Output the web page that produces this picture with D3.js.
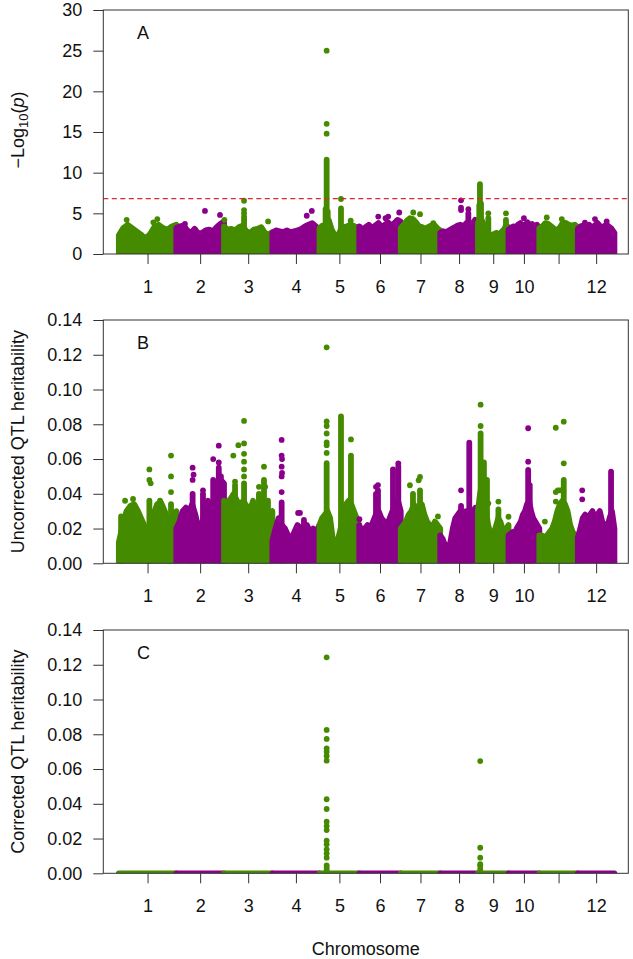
<!DOCTYPE html>
<html><head><meta charset="utf-8">
<script src="https://cdn.jsdelivr.net/npm/d3@7"></script>
<style>body{margin:0;background:#fff} svg text{font-family:"Liberation Sans",Arial,Helvetica,sans-serif;fill:#111}</style>
</head><body><svg id="chart" width="633" height="959"></svg>
<script>
// ---------- data ----------
const chromosomes = ["1","2","3","4","5","6","7","8","9","10","11","12"];
const chromLengths = [43.27, 35.94, 36.41, 35.50, 29.96, 31.25, 29.70, 28.44, 23.01, 23.21, 29.02, 27.53]; // Mb
const tickLabels = ["1","2","3","4","5","6","7","8","9","10","","12"];
const yTicksA = [0, 5, 10, 15, 20, 25, 30];
const yTicksH = [0, 0.02, 0.04, 0.06, 0.08, 0.10, 0.12, 0.14];
const thresholdA = 6.8;
const colors = ["#458B00", "#8B008B"];

// Panel A: dense band top (-log10 p), evenly sampled along each chromosome
const bandA = [
 [2.3, 3.2, 3.6, 3.2, 2.8, 2.4, 1.9, 2.4, 3.3, 3.6, 3.2, 3.0, 3.4, 3.6],
 [3.2, 3.4, 3.5, 2.9, 2.6, 3.1, 2.5, 2.6, 2.9, 3.0, 2.8, 3.3, 3.7, 4.0],
 [3.4, 3.0, 3.1, 2.9, 3.3, 3.5, 2.8, 2.6, 3.0, 3.1, 3.3, 2.6, 2.4, 2.7],
 [2.6, 2.9, 2.8, 2.7, 2.9, 2.7, 2.8, 2.9, 3.1, 3.4, 3.6, 3.8, 3.4, 3.0],
 [3.2, 3.5, 3.6, 4.2, 3.0, 2.3, 2.2, 3.0, 3.3, 3.4, 3.6, 3.5, 3.3, 3.0],
 [3.4, 3.0, 3.3, 3.6, 3.2, 3.5, 3.8, 3.3, 3.6, 3.9, 3.5, 3.8, 4.2, 4.0],
 [3.2, 3.6, 4.1, 4.4, 4.3, 3.9, 3.4, 3.3, 3.1, 3.3, 3.5, 3.6, 3.2, 2.9],
 [2.6, 2.8, 2.7, 2.9, 3.1, 3.3, 3.5, 3.6, 3.4, 3.8, 3.6, 3.7, 4.2, 4.0],
 [3.8, 4.6, 3.9, 3.3, 2.8, 2.4, 2.3, 2.5, 2.6, 2.4, 2.7, 3.0, 3.5, 3.3],
 [3.0, 3.2, 3.4, 3.3, 3.6, 3.8, 3.5, 3.6, 3.9, 3.5, 3.7, 3.4, 3.6, 3.2],
 [3.2, 3.4, 3.8, 3.7, 3.4, 3.1, 2.9, 3.3, 3.9, 3.8, 3.6, 3.5, 3.6, 3.3],
 [3.1, 3.4, 3.5, 3.3, 3.6, 3.2, 3.5, 3.8, 3.4, 3.3, 3.6, 3.4, 3.1, 2.6]
];
// [chromosome, position Mb, top value] continuous columns of markers
const spikesA = [
 [3, 15.1, 4.6], [5, 4.6, 5.5], [5, 5.4, 11.6], [5, 6.2, 5.2], [5, 16.2, 5.6],
 [8, 21.2, 5.0], [9, 1.0, 6.0], [9, 1.5, 8.6], [9, 2.3, 6.2], [9, 7.8, 4.4], [9, 21.1, 4.2]
];
// [chromosome, position Mb, value] individual markers
const dotsA = [
 [1, 5.9, 4.2], [1, 26.0, 3.9], [1, 29.0, 4.3],
 [2, 6.5, 3.7], [2, 21.6, 5.3], [2, 32.9, 4.8],
 [3, 0.3, 4.2], [3, 15.1, 6.55], [3, 15.1, 5.4], [3, 15.1, 5.0], [3, 33.2, 4.0],
 [4, 25.9, 4.7], [4, 29.7, 5.3],
 [5, 5.4, 25.0], [5, 5.4, 16.0], [5, 5.4, 14.8], [5, 16.2, 6.76], [5, 23.5, 4.1],
 [6, 14.3, 4.6], [6, 19.8, 4.4], [6, 21.8, 4.6], [6, 30.1, 5.1],
 [7, 9.4, 5.1], [7, 14.5, 4.9], [7, 24.5, 3.8],
 [8, 15.7, 6.6], [8, 15.7, 5.7], [8, 15.7, 5.4], [8, 21.2, 5.5],
 [9, 7.8, 5.0], [9, 21.1, 5.0],
 [10, 11.6, 4.4],
 [11, 5.6, 4.5], [11, 16.9, 4.3],
 [12, 5.3, 3.85], [12, 12.9, 4.3], [12, 21.7, 4.0]
];

// Panel B: uncorrected QTL heritability
const bandB = [
 [0.012, 0.022, 0.030, 0.033, 0.034, 0.030, 0.025, 0.020, 0.018, 0.028, 0.034, 0.035, 0.030, 0.024, 0.026, 0.030],
 [0.020, 0.024, 0.030, 0.032, 0.030, 0.034, 0.028, 0.020, 0.022, 0.030, 0.036, 0.028, 0.022, 0.040, 0.048, 0.046],
 [0.036, 0.035, 0.037, 0.040, 0.036, 0.034, 0.036, 0.033, 0.030, 0.036, 0.030, 0.032, 0.034, 0.030, 0.028, 0.030],
 [0.013, 0.020, 0.026, 0.022, 0.020, 0.016, 0.014, 0.018, 0.022, 0.020, 0.016, 0.022, 0.018, 0.020, 0.018, 0.022],
 [0.022, 0.026, 0.028, 0.030, 0.026, 0.014, 0.012, 0.014, 0.020, 0.030, 0.034, 0.036, 0.034, 0.030, 0.026, 0.022],
 [0.022, 0.018, 0.020, 0.022, 0.020, 0.024, 0.028, 0.030, 0.026, 0.024, 0.022, 0.026, 0.030, 0.034, 0.036, 0.030],
 [0.020, 0.022, 0.024, 0.028, 0.030, 0.034, 0.030, 0.032, 0.034, 0.028, 0.024, 0.022, 0.020, 0.024, 0.022, 0.020],
 [0.016, 0.014, 0.010, 0.008, 0.012, 0.020, 0.026, 0.028, 0.030, 0.028, 0.022, 0.020, 0.024, 0.030, 0.032, 0.026],
 [0.030, 0.040, 0.046, 0.040, 0.030, 0.022, 0.018, 0.016, 0.018, 0.022, 0.026, 0.024, 0.020, 0.018, 0.020, 0.022],
 [0.016, 0.017, 0.018, 0.017, 0.020, 0.022, 0.024, 0.028, 0.030, 0.034, 0.036, 0.030, 0.026, 0.024, 0.022, 0.020],
 [0.016, 0.016, 0.015, 0.016, 0.018, 0.020, 0.024, 0.030, 0.034, 0.036, 0.034, 0.030, 0.022, 0.018, 0.016, 0.015],
 [0.015, 0.020, 0.026, 0.028, 0.026, 0.028, 0.030, 0.026, 0.028, 0.030, 0.024, 0.022, 0.020, 0.026, 0.030, 0.020]
];
const spikesB = [
 [1, 1.7, 0.027], [1, 23.0, 0.036], [1, 39.3, 0.034],
 [2, 12.3, 0.040], [2, 20.1, 0.040], [2, 27.8, 0.048], [2, 32.0, 0.055], [2, 33.6, 0.050],
 [3, 8.3, 0.045], [3, 15.1, 0.046], [3, 26.3, 0.040], [3, 30.1, 0.048], [3, 33.1, 0.036],
 [4, 7.0, 0.035], [4, 23.8, 0.025],
 [5, 5.4, 0.0576], [5, 16.2, 0.0846], [5, 23.7, 0.062],
 [6, 12.6, 0.040], [6, 14.1, 0.042], [6, 25.4, 0.054], [6, 29.4, 0.056],
 [7, 9.2, 0.040], [7, 14.5, 0.042],
 [8, 15.7, 0.033], [8, 19.4, 0.030], [8, 21.9, 0.0694],
 [9, 2.0, 0.0748], [9, 4.5, 0.058], [9, 6.8, 0.048], [9, 15.4, 0.031],
 [10, 14.8, 0.0537], [10, 16.0, 0.045],
 [11, 18.4, 0.048],
 [12, 25.0, 0.0527]
];
const dotsB = [
 [1, 4.7, 0.036], [1, 10.7, 0.037], [1, 23.0, 0.054], [1, 23.0, 0.048], [1, 24.0, 0.046], [1, 31.0, 0.036],
 [1, 39.3, 0.062], [1, 39.3, 0.050], [1, 39.3, 0.041],
 [2, 12.3, 0.055], [2, 13.0, 0.051], [2, 12.3, 0.048], [2, 20.1, 0.042], [2, 27.8, 0.060], [2, 32.0, 0.0677], [2, 32.0, 0.058],
 [3, 7.0, 0.062], [3, 8.3, 0.047], [3, 10.8, 0.068], [3, 15.1, 0.0819], [3, 15.1, 0.069], [3, 15.1, 0.063],
 [3, 15.1, 0.0585], [3, 15.1, 0.054], [3, 15.1, 0.050], [3, 26.3, 0.044], [3, 30.1, 0.0556], [3, 31.0, 0.044],
 [4, 7.0, 0.071], [4, 7.0, 0.062], [4, 7.3, 0.060], [4, 7.0, 0.0556], [4, 7.3, 0.052], [4, 7.0, 0.050], [4, 7.0, 0.041],
 [4, 19.4, 0.029], [4, 20.8, 0.029],
 [5, 5.4, 0.1243], [5, 5.4, 0.0816], [5, 5.4, 0.079], [5, 5.4, 0.0747], [5, 5.4, 0.0695], [5, 5.4, 0.068], [5, 5.4, 0.0635], [5, 23.7, 0.0713],
 [6, 0.1, 0.0254], [6, 12.6, 0.044], [6, 14.1, 0.045], [6, 29.4, 0.0575],
 [7, 6.9, 0.0449], [7, 14.5, 0.0497], [7, 13.5, 0.0478], [7, 28.0, 0.027],
 [8, 15.7, 0.042],
 [9, 2.0, 0.0913], [9, 2.0, 0.079], [9, 7.8, 0.0345], [9, 15.4, 0.0355], [9, 23.0, 0.0268],
 [10, 14.8, 0.0777], [10, 14.8, 0.0585],
 [11, 4.2, 0.024], [11, 12.4, 0.078], [11, 12.4, 0.041], [11, 12.4, 0.0355], [11, 13.9, 0.042], [11, 15.4, 0.042],
 [11, 16.9, 0.042], [11, 18.4, 0.0815], [11, 18.4, 0.0575],
 [12, 3.3, 0.042], [12, 3.3, 0.0368]
];

// Panel C: corrected QTL heritability (all other markers are 0)
const bandC = [[0,0],[0,0],[0,0],[0,0],[0,0],[0,0],[0,0],[0,0],[0,0],[0,0],[0,0],[0,0]];
const spikesC = [];
const dotsC = [
 [5, 5.4, 0.1243], [5, 5.4, 0.0825], [5, 5.4, 0.0773], [5, 5.4, 0.0719], [5, 5.4, 0.0700], [5, 5.4, 0.0675],
 [5, 5.4, 0.0648], [5, 5.4, 0.0426], [5, 5.4, 0.0370], [5, 5.4, 0.0297], [5, 5.4, 0.0272], [5, 5.4, 0.0249],
 [5, 5.4, 0.0188], [5, 5.4, 0.0167], [5, 5.4, 0.0138], [5, 5.4, 0.0115], [5, 5.4, 0.0090], [5, 5.4, 0.0046],
 [5, 5.4, 0.0032], [5, 5.4, 0.0019],
 [9, 1.7, 0.0646], [9, 1.7, 0.0147], [9, 1.7, 0.0090], [9, 1.7, 0.0052], [9, 1.7, 0.0042], [9, 1.7, 0.0023]
];

// ---------- drawing ----------
const svg = d3.select("#chart");
const R = 2.9;
const FS = 18;
const left = 103.3, right = 628.3;
const cumStart = chromLengths.map((d, i) => d3.sum(chromLengths.slice(0, i)));
const mids = chromLengths.map((d, i) => cumStart[i] + d / 2);
const x = d3.scaleLinear().domain([-11.7, 383.7]).range([left, right]);
const gpos = (c, p) => x(cumStart[c - 1] + p);

const panels = [
  {id: "A", top: 10, bottom: 254, ymax: 30, ticks: yTicksA, fmt: d3.format("d"), band: bandA, spikes: spikesA, dots: dotsA},
  {id: "B", top: 320, bottom: 563.3, ymax: 0.14, ticks: yTicksH, fmt: d3.format(".2f"), band: bandB, spikes: spikesB, dots: dotsB},
  {id: "C", top: 630, bottom: 873.3, ymax: 0.14, ticks: yTicksH, fmt: d3.format(".2f"), band: bandC, spikes: spikesC, dots: dotsC}
];

panels.forEach(p => {
  const y = d3.scaleLinear().domain([0, p.ymax]).range([p.bottom, p.top]);
  const g = svg.append("g");
  svg.append("clipPath").attr("id", "clip" + p.id)
    .append("rect").attr("x", left).attr("y", p.top).attr("width", right - left).attr("height", p.bottom - p.top);
  const plot = g.append("g").attr("clip-path", `url(#clip${p.id})`);

  chromosomes.forEach((c, k) => {
    const col = colors[k % 2];
    const vals = p.band[k];
    const n = vals.length;
    const pts = vals.map((v, i) => [cumStart[k] + chromLengths[k] * i / (n - 1), v]);
    const area = d3.area().x(d => x(d[0])).y0(y(0)).y1(d => y(d[1]));
    plot.append("path").attr("d", area(pts))
      .attr("fill", col).attr("stroke", col).attr("stroke-width", 2 * R).attr("stroke-linejoin", "round");
    p.spikes.filter(s => s[0] === k + 1).forEach(s => {
      plot.append("line").attr("x1", gpos(s[0], s[1])).attr("x2", gpos(s[0], s[1]))
        .attr("y1", y(0)).attr("y2", y(s[2]))
        .attr("stroke", col).attr("stroke-width", 2 * R).attr("stroke-linecap", "round");
    });
    plot.selectAll(null).data(p.dots.filter(d => d[0] === k + 1)).enter().append("circle")
      .attr("cx", d => gpos(d[0], d[1])).attr("cy", d => y(d[2])).attr("r", R).attr("fill", col);
  });

  if (p.id === "A") {
    g.append("line").attr("x1", left).attr("x2", right).attr("y1", y(thresholdA)).attr("y2", y(thresholdA))
      .attr("stroke", "#e3262b").attr("stroke-width", 1.3).attr("stroke-dasharray", "5,3.5");
  }

  // axes
  const ya = g.append("g").attr("transform", `translate(${left},0)`)
    .call(d3.axisLeft(y).tickValues(p.ticks).tickFormat(p.fmt).tickSize(10).tickPadding(11));
  const xa = g.append("g").attr("transform", `translate(0,${p.bottom})`)
    .call(d3.axisBottom(x).tickValues(mids).tickFormat((d, i) => tickLabels[i]).tickSize(10).tickPadding(16));
  [ya, xa].forEach(a => {
    a.select(".domain").remove();
    a.selectAll("line").attr("stroke", "#333");
    a.selectAll("text").attr("font-size", FS).attr("fill", "#111")
      .style("font-family", '"Liberation Sans", Arial, sans-serif');
  });

  g.append("rect").attr("x", left).attr("y", p.top).attr("width", right - left).attr("height", p.bottom - p.top)
    .attr("fill", "none").attr("stroke", "#333").attr("stroke-width", 1);

  g.append("text").attr("x", 137).attr("y", p.top + 28.5).attr("font-size", FS).text(p.id);
});

// y titles
const midA = (10 + 254) / 2 - 2, midB = (320 + 563.3) / 2, midC = (630 + 873.3) / 2;
const tA = svg.append("text").attr("transform", `translate(24,${midA}) rotate(-90)`)
  .attr("text-anchor", "middle").attr("font-size", FS);
tA.append("tspan").text("\u2212Log");
tA.append("tspan").attr("font-size", 13).attr("dy", 4).text("10");
tA.append("tspan").attr("dy", -4).text("(");
tA.append("tspan").attr("font-style", "italic").text("p");
tA.append("tspan").text(")");
svg.append("text").attr("transform", `translate(24,${midB}) rotate(-90)`)
  .attr("text-anchor", "middle").attr("font-size", FS).text("Uncorrected QTL heritability");
svg.append("text").attr("transform", `translate(24,${midC}) rotate(-90)`)
  .attr("text-anchor", "middle").attr("font-size", FS).text("Corrected QTL heritability");
svg.append("text").attr("x", (left + right) / 2).attr("y", 955).attr("text-anchor", "middle")
  .attr("font-size", FS).text("Chromosome");
</script></body></html>
